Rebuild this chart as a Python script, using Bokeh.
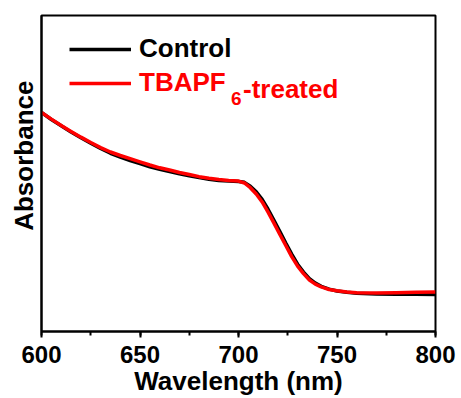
from bokeh.plotting import figure
from bokeh.models import (Range1d, SingleIntervalTicker, FixedTicker, Legend, LegendItem,
                          Label, Title)
from bokeh.embed import file_html
from bokeh.resources import INLINE

wavelength = [600, 605, 610, 615, 620, 625, 630, 635, 640, 645, 650, 655, 660, 665, 670,
              675, 680, 685, 690, 695, 700, 703, 706, 709, 712, 715, 718, 721, 724, 727,
              730, 733, 736, 739, 742, 746, 750, 755, 760, 770, 780, 790, 800]
control = [0.693, 0.671, 0.651, 0.631, 0.613, 0.596, 0.579, 0.564, 0.552, 0.541, 0.531,
           0.521, 0.513, 0.506, 0.499, 0.493, 0.487, 0.482, 0.478, 0.476, 0.475, 0.472,
           0.460, 0.442, 0.418, 0.387, 0.352, 0.316, 0.280, 0.245, 0.213, 0.188, 0.167,
           0.153, 0.143, 0.134, 0.128, 0.124, 0.121, 0.119, 0.118, 0.118, 0.117]
treated = [0.693, 0.672, 0.652, 0.633, 0.615, 0.598, 0.582, 0.568, 0.557, 0.547, 0.537,
           0.527, 0.518, 0.511, 0.503, 0.497, 0.490, 0.485, 0.481, 0.478, 0.476, 0.470,
           0.455, 0.435, 0.410, 0.378, 0.343, 0.307, 0.272, 0.237, 0.207, 0.183, 0.163,
           0.150, 0.141, 0.133, 0.129, 0.125, 0.123, 0.122, 0.123, 0.124, 0.125]
labels = ["Control", "TBAPF", "6", "-treated"]
colors = ["black", "red"]

FONT = "Liberation Sans"

p = figure(width=461, height=398, output_backend="svg", toolbar_location=None,
           x_range=Range1d(600, 800), y_range=Range1d(0, 1),
           min_border_left=41, min_border_right=26, min_border_top=15, min_border_bottom=64)
p.grid.visible = False
p.outline_line_color = "black"
p.outline_line_width = 2
p.background_fill_color = "white"

r_control = p.line(wavelength, control, line_color=colors[0], line_width=3.5)
r_treated = p.line(wavelength, treated, line_color=colors[1], line_width=3.5)

xa = p.xaxis[0]
xa.ticker = SingleIntervalTicker(interval=50, num_minor_ticks=2)
xa.axis_label = "Wavelength (nm)"
xa.axis_label_text_font = FONT
xa.axis_label_text_font_style = "bold"
xa.axis_label_text_font_size = "26px"
xa.axis_label_text_color = "black"
xa.axis_label_standoff = 0
xa.major_label_text_font = FONT
xa.major_label_text_font_style = "bold"
xa.major_label_text_font_size = "24px"
xa.major_label_text_color = "black"
xa.major_label_standoff = 8
xa.axis_line_width = 2
xa.major_tick_line_width = 2
xa.minor_tick_line_width = 2
xa.major_tick_out = 6
xa.major_tick_in = 0
xa.minor_tick_out = 4
xa.minor_tick_in = 0

ya = p.yaxis[0]
ya.ticker = FixedTicker(ticks=[])
ya.axis_line_width = 2
ya.major_tick_line_color = None
ya.minor_tick_line_color = None

ytitle = Title(text="Absorbance", align="left", offset=100.7, standoff=6,
               text_font=FONT, text_font_style="bold", text_font_size="26px",
               text_color="black")
p.add_layout(ytitle, "left")

for lab, col, r, y in [(labels[0], colors[0], r_control, 267), (labels[1], colors[1], r_treated, 233)]:
    lg = Legend(items=[LegendItem(label=lab, renderers=[r])], location=(28, y),
                label_text_font=FONT, label_text_font_style="bold",
                label_text_font_size="26px", label_text_color=col,
                glyph_width=62, glyph_height=30, label_height=30, label_standoff=8,
                padding=0, margin=0, spacing=0,
                border_line_color=None, background_fill_alpha=0)
    p.add_layout(lg)

# subscript "6" and the rest of the red legend entry
p.add_layout(Label(x=600, y=1, x_offset=189.5, y_offset=-83.2, text=labels[2],
                   text_font=FONT, text_font_style="bold", text_font_size="19px",
                   text_color=colors[1], text_baseline="alphabetic", text_align="left"))
p.add_layout(Label(x=600, y=1, x_offset=201.5, y_offset=-73.7, text=labels[3],
                   text_font=FONT, text_font_style="bold", text_font_size="26px",
                   text_color=colors[1], text_baseline="alphabetic", text_align="left"))

open("out.html", "w").write(file_html(p, INLINE))
